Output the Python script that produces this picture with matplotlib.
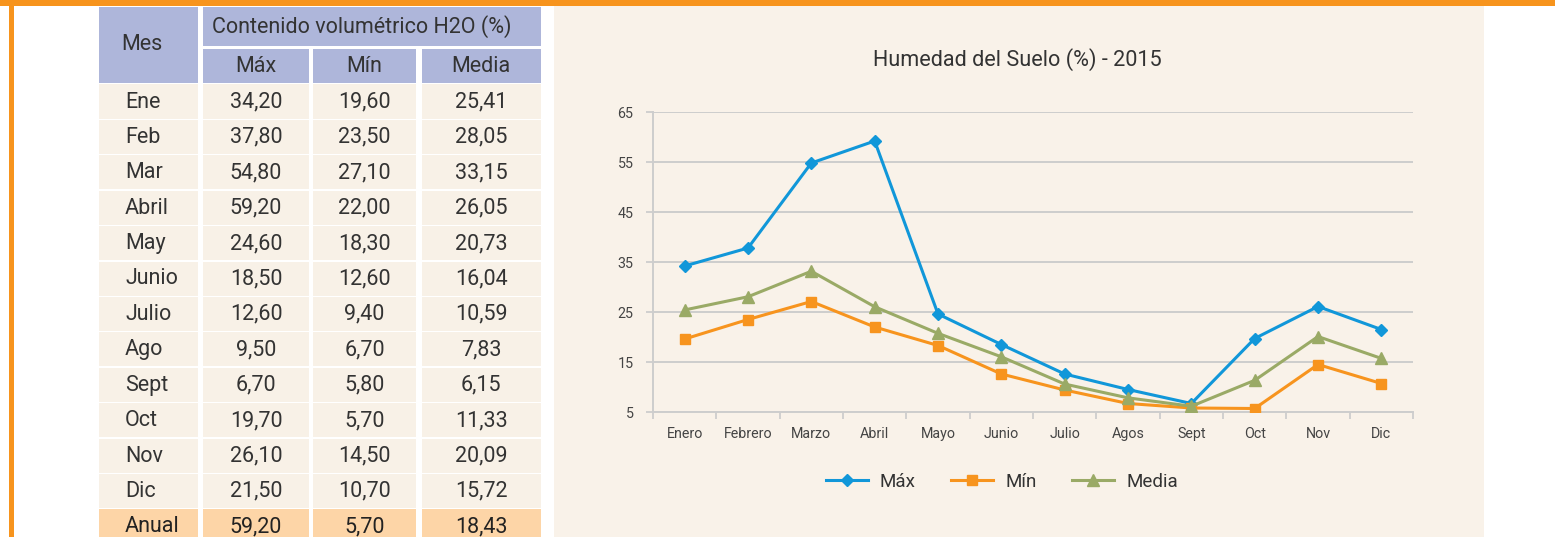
import matplotlib
matplotlib.use("Agg")
import matplotlib.pyplot as plt
from matplotlib.patches import Rectangle

plt.rcParams['font.family'] = ['Roboto', 'DejaVu Sans']

# ---------------- data ----------------
table_months = ["Ene", "Feb", "Mar", "Abril", "May", "Junio", "Julio", "Ago",
                "Sept", "Oct", "Nov", "Dic"]
chart_months = ["Enero", "Febrero", "Marzo", "Abril", "Mayo", "Junio", "Julio",
                "Agos", "Sept", "Oct", "Nov", "Dic"]
max_vals = [34.20, 37.80, 54.80, 59.20, 24.60, 18.50, 12.60, 9.50, 6.70, 19.70, 26.10, 21.50]
min_vals = [19.60, 23.50, 27.10, 22.00, 18.30, 12.60, 9.40, 6.70, 5.80, 5.70, 14.50, 10.70]
media_vals = [25.41, 28.05, 33.15, 26.05, 20.73, 16.04, 10.59, 7.83, 6.15, 11.33, 20.09, 15.72]
annual_label = "Anual"
annual_vals = [59.20, 5.70, 18.43]
header_main = "Mes"
header_group = "Contenido volumétrico H2O (%)"
series_names = ["Máx", "Mín", "Media"]
yticks = [5, 15, 25, 35, 45, 55, 65]
title = "Humedad del Suelo (%) - 2015"

# ---------------- styles ----------------
W, H = 1555, 537
ORANGE_BORDER = "#f7941d"
HEADER_BG = "#aeb6da"
ROW_BG = "#f8f1e7"
ANNUAL_BG = "#fdd5a7"
CHART_BG = "#f9f2e9"
TEXT = "#333333"
GRID = "#cdcdcd"
C_MAX = "#1197d9"
C_MIN = "#f7941e"
C_MED = "#9aaa66"

fig = plt.figure(figsize=(W / 100, H / 100), dpi=100)
fig.patch.set_facecolor("white")


def rect(x0, y0, x1, y1, color, z=0):
    fig.patches.append(Rectangle((x0 / W, 1 - y1 / H), (x1 - x0) / W, (y1 - y0) / H,
                                 transform=fig.transFigure, facecolor=color,
                                 edgecolor="none", zorder=z))


def text(x, y, s, size, ha="center", color=TEXT, **kw):
    fig.text(x / W, 1 - y / H, s, fontsize=size, ha=ha, va="center", color=color,
             zorder=6, **kw)


def fmt(v):
    return f"{v:.2f}".replace(".", ",")


# orange frame
rect(0, 0, W, 6, ORANGE_BORDER, 5)
rect(9, 0, 13.5, H, ORANGE_BORDER, 5)

# chart background
rect(554, 6, 1484, H, CHART_BG, 0)

# ---------------- table ----------------
cols = [(99, 197.7), (203, 309), (313, 416), (421.7, 541)]
TS = 15.5
# header
rect(cols[0][0], 7, cols[0][1], 83.3, HEADER_BG, 1)
rect(cols[1][0], 7, cols[3][1], 46, HEADER_BG, 1)
for (a, b) in cols[1:]:
    rect(a, 49, b, 83.3, HEADER_BG, 1)
text(121, 45, header_main, TS, ha="left")
text(362, 27, header_group, TS)
for (a, b), name in zip(cols[1:], series_names):
    text((a + b) / 2, 66.5, name, TS)

row_top0 = 84.5
pitch = 35.4
rows = list(zip(table_months, max_vals, min_vals, media_vals))
for i, (m, a, b, c) in enumerate(rows):
    t = row_top0 + pitch * i
    for (x0, x1) in cols:
        rect(x0, t, x1, t + 34, ROW_BG, 1)
    yc = t + 17.5
    text(125, yc, m, TS, ha="left")
    for (x0, x1), v in zip(cols[1:], (a, b, c)):
        text((x0 + x1) / 2, yc, fmt(v), TS)

t = row_top0 + pitch * len(rows)
for (x0, x1) in cols:
    rect(x0, t, x1, t + 34, ANNUAL_BG, 1)
yc = t + 17.5
text(125, yc, annual_label, TS, ha="left", color="#222222")
for (x0, x1), v in zip(cols[1:], annual_vals):
    text((x0 + x1) / 2, yc, fmt(v), TS, color="#222222")

# ---------------- chart ----------------
ax_l, ax_r, ax_t, ax_b = 653, 1413, 112, 412
ax = fig.add_axes([ax_l / W, 1 - ax_b / H, (ax_r - ax_l) / W, (ax_b - ax_t) / H])
ax.set_zorder(3)
ax.set_facecolor("none")
x = list(range(len(chart_months)))
ax.plot(x, max_vals, color=C_MAX, lw=2.2, marker="D", ms=5.8, mec=C_MAX, mfc=C_MAX,
        label=series_names[0], zorder=3)
ax.plot(x, min_vals, color=C_MIN, lw=2.2, marker="s", ms=7, mec=C_MIN, mfc=C_MIN,
        label=series_names[1], zorder=3)
ax.plot(x, media_vals, color=C_MED, lw=2.2, marker="^", ms=8, mec=C_MED, mfc=C_MED,
        label=series_names[2], zorder=3)

ax.set_xlim(-0.5, len(chart_months) - 0.5)
ax.set_ylim(yticks[0], yticks[-1])
ax.set_yticks(yticks)
ax.set_xticks(x)
ax.set_xticklabels(chart_months)
ax.set_xticks([i - 0.5 for i in range(len(chart_months) + 1)], minor=True)
ax.tick_params(axis="x", which="major", length=0, pad=11, labelsize=10.3, labelcolor="#444444")
ax.tick_params(axis="x", which="minor", length=5, width=1.3, color=GRID, direction="out")
ax.tick_params(axis="y", which="major", length=5, width=1.3, color=GRID, pad=9,
               labelsize=10.3, labelcolor="#444444")
ax.yaxis.grid(True, color=GRID, lw=1.4, zorder=0)
ax.set_axisbelow(True)
for s in ("top", "right"):
    ax.spines[s].set_visible(False)
for s in ("left", "bottom"):
    ax.spines[s].set_color(GRID)
    ax.spines[s].set_linewidth(1.4)

text(1017.5, 60, title, 15.6)

leg = fig.legend(loc="center", bbox_to_anchor=(1002 / W, 1 - 482 / H), ncol=3, frameon=False,
                 fontsize=13.5, handlelength=2.24, handletextpad=0.64, columnspacing=1.9,
                 labelcolor="#333333")
leg.set_zorder(6)

fig.savefig("out.png", dpi=100, facecolor=fig.get_facecolor())
